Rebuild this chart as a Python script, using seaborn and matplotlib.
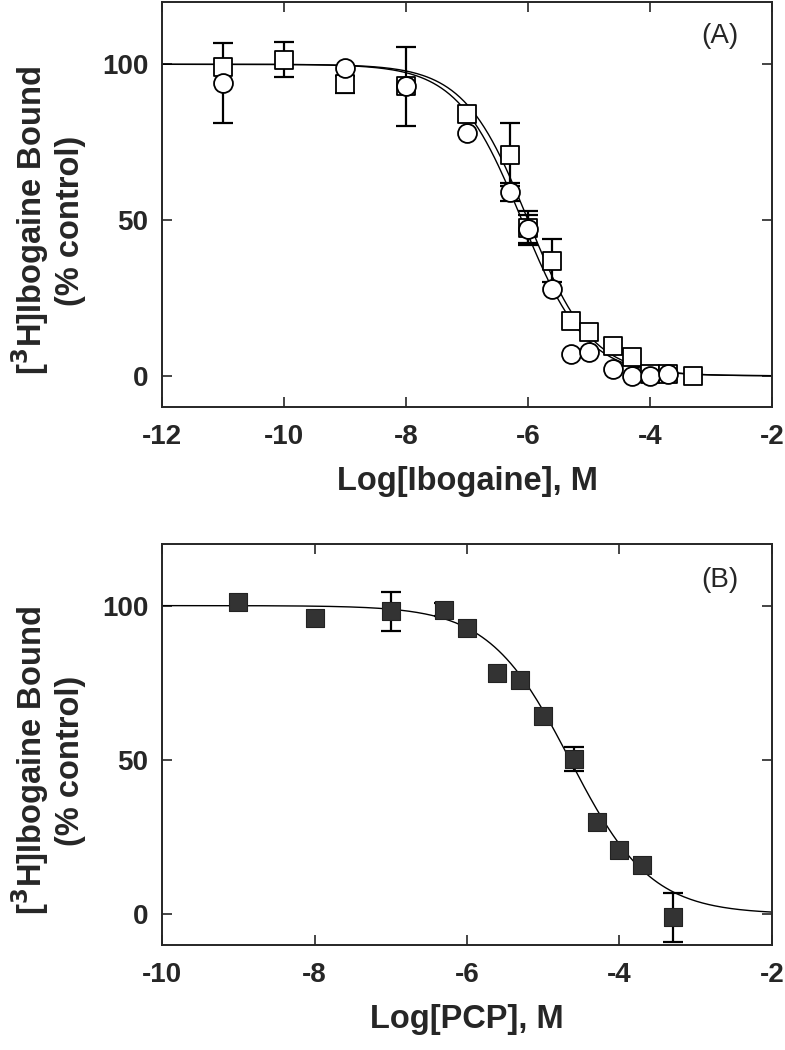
import matplotlib
matplotlib.use("Agg")
import matplotlib.pyplot as plt
import numpy as np
import pandas as pd
import seaborn as sns

# panel A: [3H]ibogaine displaced by ibogaine (two experiments)
ibo_sq_x = [-11, -10, -9, -8, -7, -6.3, -6, -5.6, -5.3, -5, -4.6, -4.3, -4, -3.7, -3.3]
ibo_sq_y = [99, 101.5, 93.6, 93, 84, 71, 47.5, 37, 17.5, 14, 9.5, 6, 0.5, 0.6, 0]
ibo_sq_err = [0, 5.5, 2.7, 0, 0, 10, 5.5, 7, 0, 0, 0, 0, 0, 0, 0]
ibo_ci_x = [-11, -9, -8, -7, -6.3, -6, -5.6, -5.3, -5, -4.6, -4.3, -4, -3.7]
ibo_ci_y = [94, 98.7, 93, 78, 59, 47, 27.8, 7, 7.7, 2.2, 0, 0, 0.6]
ibo_ci_err = [12.7, 0, 12.7, 0, 3, 4.5, 0, 0, 0, 0, 0, 0, 0]
# fitted curves: (logIC50, hill slope)
ibo_sq_fit = (-6.0, 0.83)
ibo_ci_fit = (-6.1, 0.82)

# panel B: [3H]ibogaine displaced by PCP
pcp_x = [-9, -8, -7, -6.3, -6, -5.6, -5.3, -5, -4.6, -4.3, -4, -3.7, -3.3]
pcp_y = [101.3, 96.1, 98.1, 98.7, 92.6, 78.1, 75.8, 64.1, 50.3, 29.8, 20.8, 16.0, -1.0]
pcp_err = [0, 0, 6.3, 2, 0, 0, 0, 0, 4, 0, 0, 0, 8]
pcp_fit = (-4.65, 0.82)


def curve(lo, hi, fit):
    xx = np.linspace(lo, hi, 300)
    c, h = fit
    return pd.DataFrame({"x": xx, "y": 100 / (1 + 10 ** (h * (xx - c)))})


sns.set_theme(style="ticks")
plt.rcParams["font.family"] = ["Liberation Sans", "DejaVu Sans"]
plt.rcParams["axes.linewidth"] = 1.4
plt.rcParams["axes.unicode_minus"] = False

fig = plt.figure(figsize=(7.85, 10.5), dpi=100)
axA = fig.add_axes([0.2064, 0.6124, 0.777, 0.3857])
axB = fig.add_axes([0.2064, 0.100, 0.777, 0.382])

# --- panel A ---
for fit in (ibo_sq_fit, ibo_ci_fit):
    sns.lineplot(data=curve(-12, -2, fit), x="x", y="y", ax=axA, color="black", lw=1.0, zorder=1)
for xs, ys, es in ((ibo_sq_x, ibo_sq_y, ibo_sq_err), (ibo_ci_x, ibo_ci_y, ibo_ci_err)):
    e = np.array(es)
    m = e > 0
    axA.errorbar(np.array(xs)[m], np.array(ys)[m], yerr=e[m], fmt="none", ecolor="black",
                 elinewidth=1.6, capsize=7, capthick=1.6, zorder=2)
sns.scatterplot(x=ibo_sq_x, y=ibo_sq_y, ax=axA, marker="s", s=175, facecolor="white",
                edgecolor="black", linewidth=1.3, zorder=3)
sns.scatterplot(x=ibo_ci_x, y=ibo_ci_y, ax=axA, marker="o", s=185, facecolor="white",
                edgecolor="black", linewidth=1.3, zorder=4)
axA.set_xlim(-12, -2)
axA.set_xticks([-12, -10, -8, -6, -4, -2])
axA.set_xlabel("Log[Ibogaine], M", fontsize=23.5, fontweight="bold", labelpad=12)
axA.text(0.915, 0.915, "(A)", transform=axA.transAxes, fontsize=20, ha="center", va="center")

# --- panel B ---
sns.lineplot(data=curve(-10, -2, pcp_fit), x="x", y="y", ax=axB, color="black", lw=1.0, zorder=1)
e = np.array(pcp_err)
m = e > 0
axB.errorbar(np.array(pcp_x)[m], np.array(pcp_y)[m], yerr=e[m], fmt="none", ecolor="black",
             elinewidth=1.6, capsize=7, capthick=1.6, zorder=2)
sns.scatterplot(x=pcp_x, y=pcp_y, ax=axB, marker="s", s=185, color="#333333",
                edgecolor="#222222", linewidth=0.8, zorder=3)
axB.set_xlim(-10, -2)
axB.set_xticks([-10, -8, -6, -4, -2])
axB.set_xlabel("Log[PCP], M", fontsize=23.5, fontweight="bold", labelpad=12)
axB.text(0.915, 0.91, "(B)", transform=axB.transAxes, fontsize=20, ha="center", va="center")

for ax in (axA, axB):
    ax.set_ylim(-10, 120)
    ax.set_yticks([0, 50, 100])
    ax.set_ylabel("[$\\mathbf{^3}$H]Ibogaine Bound\n(% control)", fontsize=23.5,
                  fontweight="bold", linespacing=1.15)
    ax.yaxis.set_label_coords(-0.125, 0.46)
    ax.tick_params(direction="in", top=True, right=True, length=7, width=1.2, labelsize=20)
    ax.tick_params(axis="x", pad=12)
    ax.tick_params(axis="y", pad=10)
    for lab in ax.get_xticklabels() + ax.get_yticklabels():
        lab.set_fontweight("bold")
    for sp in ax.spines.values():
        sp.set_visible(True)

fig.savefig("out.png", dpi=100)
